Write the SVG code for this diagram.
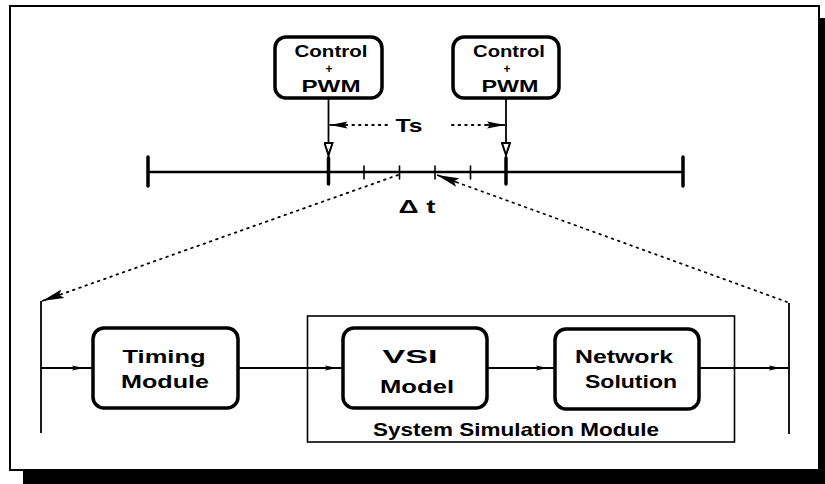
<svg xmlns="http://www.w3.org/2000/svg" width="825" height="484" viewBox="0 0 825 484">
<style>
.lbl{font-family:"Liberation Sans",Arial,sans-serif;font-size:19px;font-weight:bold;fill:#000;text-anchor:middle}
.sm{font-size:17px}
.plus{font-size:12px}
.box{fill:#fff;stroke:#000;stroke-width:3.5}
.ln{fill:none;stroke:#000;stroke-width:1.8}
.dot{fill:none;stroke:#000;stroke-width:1.8;stroke-dasharray:1.6 5;stroke-linecap:round}
.tick{stroke:#000;stroke-linecap:round}
</style>
<defs>
<marker id="fa" markerUnits="userSpaceOnUse" viewBox="0 0 12 6" refX="12" refY="3" markerWidth="12" markerHeight="6" orient="auto">
<path d="M0,0.5 L12,3 L0,5.5 L2,3 z" fill="#000"/>
</marker>
<marker id="va" markerUnits="userSpaceOnUse" viewBox="0 0 14 10" refX="13" refY="5" markerWidth="14" markerHeight="10" orient="auto">
<path d="M1,1 L13,5 L1,9 z" fill="#fff" stroke="#000" stroke-width="2"/>
</marker>
<marker id="ta" markerUnits="userSpaceOnUse" viewBox="0 0 18 8" refX="18" refY="4" markerWidth="18" markerHeight="8" orient="auto">
<path d="M0,0.5 L18,4 L0,7.5 L3,4 z" fill="#000"/>
</marker>
<marker id="da" markerUnits="userSpaceOnUse" viewBox="0 0 22 10" refX="22" refY="5" markerWidth="22" markerHeight="10" orient="auto">
<path d="M0,0.5 L22,5 L0,9.5 L4,5 z" fill="#000"/>
</marker>
</defs>

<g id="frame">
<rect x="819" y="18" width="6" height="466" fill="#000"/>
<rect x="23" y="471" width="802" height="13" fill="#000"/>
<rect x="10" y="6" width="809" height="464" fill="#fff" stroke="#000" stroke-width="2"/>
</g>

<g id="timeline">
<line x1="148" y1="172" x2="683" y2="172" stroke="#000" stroke-width="2.5"/>
<line class="tick" x1="148" y1="157" x2="148" y2="186" stroke-width="3.5"/>
<line class="tick" x1="683" y1="157" x2="683" y2="186" stroke-width="3.5"/>
<line class="tick" x1="328.5" y1="158" x2="328.5" y2="184" stroke-width="3.5"/>
<line class="tick" x1="506" y1="158" x2="506" y2="184" stroke-width="3.5"/>
<line class="tick" x1="364" y1="166" x2="364" y2="179" stroke-width="1.6"/>
<line class="tick" x1="399.5" y1="166" x2="399.5" y2="179" stroke-width="1.6"/>
<line class="tick" x1="435" y1="166" x2="435" y2="179" stroke-width="1.6"/>
<line class="tick" x1="470.5" y1="166" x2="470.5" y2="179" stroke-width="1.6"/>
<text class="lbl" x="409" y="132" textLength="27" lengthAdjust="spacingAndGlyphs">Ts</text>
<text class="lbl" x="417" y="213" textLength="37" lengthAdjust="spacingAndGlyphs">Δ t</text>
</g>

<g id="ctrl1">
<rect class="box" x="275" y="37" width="107" height="61" rx="11"/>
<text class="lbl sm" x="331" y="57" textLength="73" lengthAdjust="spacingAndGlyphs">Control</text>
<text class="lbl plus" x="329" y="73">+</text>
<text class="lbl sm" x="331" y="92" textLength="59" lengthAdjust="spacingAndGlyphs">PWM</text>
</g>

<g id="ctrl2">
<rect class="box" x="453" y="37" width="106" height="61" rx="11"/>
<text class="lbl sm" x="509" y="57" textLength="72" lengthAdjust="spacingAndGlyphs">Control</text>
<text class="lbl plus" x="507" y="73">+</text>
<text class="lbl sm" x="510" y="92" textLength="57" lengthAdjust="spacingAndGlyphs">PWM</text>
</g>

<g id="ssm">
<rect x="307.5" y="316" width="427" height="126" fill="none" stroke="#000" stroke-width="1.6"/>
<text class="lbl" x="516" y="436" textLength="286" lengthAdjust="spacingAndGlyphs">System Simulation Module</text>
</g>

<g id="timing">
<rect class="box" x="93" y="328" width="145" height="80" rx="11"/>
<text class="lbl" x="164" y="363" textLength="83" lengthAdjust="spacingAndGlyphs">Timing</text>
<text class="lbl" x="165" y="388" textLength="88" lengthAdjust="spacingAndGlyphs">Module</text>
</g>

<g id="vsi">
<rect class="box" x="343" y="328" width="144" height="80" rx="11"/>
<text class="lbl" x="410" y="363" textLength="55" lengthAdjust="spacingAndGlyphs">VSI</text>
<text class="lbl" x="417" y="393" textLength="74" lengthAdjust="spacingAndGlyphs">Model</text>
</g>

<g id="network">
<rect class="box" x="555" y="329" width="144" height="80" rx="11"/>
<text class="lbl" x="624" y="363" textLength="98" lengthAdjust="spacingAndGlyphs">Network</text>
<text class="lbl" x="631" y="388" textLength="92" lengthAdjust="spacingAndGlyphs">Solution</text>
</g>

<g id="connectors">
<path class="ln" d="M328.5,98 L328.5,155 L328.5,158" marker-mid="url(#va)"/>
<path class="ln" d="M506,98 L506,155 L506,158" marker-mid="url(#va)"/>
<path class="dot" d="M387,125 L348,125"/>
<path class="ln" d="M348,125 L329.5,125" marker-end="url(#ta)"/>
<path class="dot" d="M452,125 L486,125"/>
<path class="ln" d="M486,125 L505,125" marker-end="url(#ta)"/>
<path class="dot" d="M398,175 L62,294"/>
<path class="ln" d="M62,294 L42,301" marker-end="url(#da)" stroke-width="1"/>
<path class="dot" d="M787,302 L456,182"/>
<path class="ln" d="M456,182 L437,175" marker-end="url(#da)" stroke-width="1"/>
<line class="ln" x1="41" y1="301" x2="41" y2="433"/>
<line class="ln" x1="789" y1="303" x2="789" y2="434"/>
<path class="ln" d="M41,368 L84,368 L93,368" marker-mid="url(#fa)"/>
<path class="ln" d="M238,368 L337,368 L343,368" marker-mid="url(#fa)"/>
<path class="ln" d="M487,368 L548,368 L555,368" marker-mid="url(#fa)"/>
<path class="ln" d="M699,368 L781,368 L789,368" marker-mid="url(#fa)"/>
</g>
</svg>
